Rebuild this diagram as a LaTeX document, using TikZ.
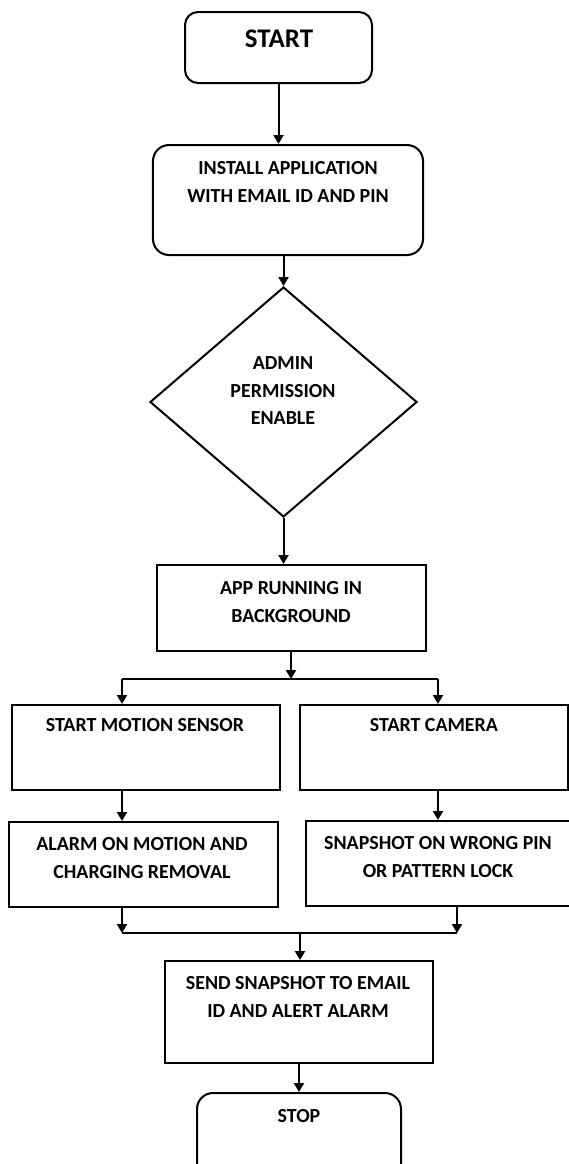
\documentclass[tikz,border=0pt]{standalone}
\usepackage{fontspec}
\setmainfont{Carlito}
\usetikzlibrary{arrows.meta,shapes.geometric}
\tikzset{
  box/.style={draw=black, line width=2bp, rectangle, inner sep=0pt, fill=white},
  rbox/.style={box, rounded corners=13bp},
  decision/.style={draw=black, line width=2bp, diamond, inner sep=0pt, fill=white},
  txt/.style={font=\bfseries\fontsize{20}{27.7}\selectfont, align=center, inner sep=0pt, anchor=north, text=black},
  bigtxt/.style={font=\bfseries\fontsize{27}{30}\selectfont, inner sep=0pt, anchor=north, text=black},
  conn/.style={draw=black, line width=2bp},
  arr/.style={conn, -{Triangle[length=9bp,width=10bp]}}
}
\begin{document}
\begin{tikzpicture}[x=1bp, y=-1bp]
\useasboundingbox (0,0) rectangle (569,1164);
\fill[white] (0,0) rectangle (569,1164);
\clip (0,0) rectangle (569,1164);

% shapes
\node[rbox, minimum width=187bp, minimum height=71bp] (start) at (278.5,47.5) {};
\node[rbox, rounded corners=16bp, minimum width=270bp, minimum height=110bp] (install) at (288,200) {};
\node[decision, minimum width=267bp, minimum height=230bp] (dia) at (283.5,402) {};
\node[box, minimum width=269bp, minimum height=86bp] (app) at (291.5,608) {};
\node[box, minimum width=268bp, minimum height=85bp] (motion) at (146,747.5) {};
\node[box, minimum width=268bp, minimum height=85bp] (camera) at (434,747.5) {};
\node[box, minimum width=269bp, minimum height=85bp] (alarm) at (143.5,864.5) {};
\node[box, minimum width=266bp, minimum height=85bp] (snap) at (439,863.5) {};
\node[box, minimum width=268bp, minimum height=102bp] (send) at (299,1012) {};
\node[rbox, rounded corners=16bp, minimum width=204bp, minimum height=90bp] (stop) at (299,1138) {};

% texts
\node[bigtxt] (tstart) at (279,29.5) {START};
\node[txt] (tinstall) at (288,161.5) {INSTALL APPLICATION\\WITH EMAIL ID AND PIN};
\node[txt] (tdia) at (283,356.5) {ADMIN\\PERMISSION\\ENABLE};
\node[txt] (tapp) at (291,581.5) {APP RUNNING IN\\BACKGROUND};
\node[txt] (tmotion) at (145,718.5) {START MOTION SENSOR};
\node[txt] (tcamera) at (434,718.5) {START CAMERA};
\node[txt] (talarm) at (142,837.5) {ALARM ON MOTION AND\\CHARGING REMOVAL};
\node[txt] (tsnap) at (438,836.5) {SNAPSHOT ON WRONG PIN\\OR PATTERN LOCK};
\node[txt] (tsend) at (298,976.5) {SEND SNAPSHOT TO EMAIL\\ID AND ALERT ALARM};
\node[txt] (tstop) at (299,1109.5) {STOP};

% junction points
\coordinate (split) at (291,679);
\coordinate (sl) at (122,679);
\coordinate (sr) at (438,679);
\coordinate (ml) at (122,933);
\coordinate (mr) at (457,933);
\coordinate (mm) at (300,933);

% connectors
\draw[arr] (start.south) -- (start.south |- install.north);
\draw[arr] (dia.north |- install.south) -- (dia.north);
\draw[arr] (dia.south) -- (dia.south |- app.north);
\draw[arr] (split |- app.south) -- (split);
\draw[conn] (sl) -- (sr);
\draw[arr] (sl) -- (sl |- motion.north);
\draw[arr] (sr) -- (sr |- camera.north);
\draw[arr] (sl |- motion.south) -- (sl |- alarm.north);
\draw[arr] (sr |- camera.south) -- (sr |- snap.north);
\draw[arr] (ml |- alarm.south) -- (ml);
\draw[arr] (mr |- snap.south) -- (mr);
\draw[conn] (ml) -- (mr);
\draw[arr] (mm) -- (mm |- send.north);
\draw[arr] (send.south) -- (stop.north);
\end{tikzpicture}
\end{document}
